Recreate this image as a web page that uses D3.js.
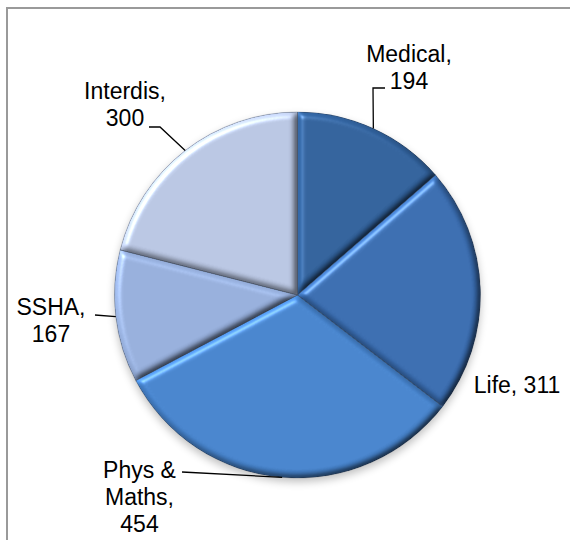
<!DOCTYPE html>
<html><head><meta charset="utf-8">
<script src="https://cdn.jsdelivr.net/npm/d3@7/dist/d3.min.js"></script>
<style>html,body{margin:0;padding:0;background:#fff;} svg{display:block;}</style>
</head><body>
<script>
// ---- data ----
const categories = ["Medical", "Life", "Phys & Maths", "SSHA", "Interdis"];
const values = [194, 311, 454, 167, 300];
const labelLines = [["Medical,", "194"], ["Life, 311"], ["Phys &", "Maths,", "454"], ["SSHA,", "167"], ["Interdis,", "300"]];
const colors = ["#2F5E97", "#3769AB", "#4480C8", "#92AAD6", "#B4C1DD"];

// ---- layout ----
const W = 570, H = 540, cx = 297.5, cy = 295, R = 183;
const labelPos = [[409, 62], [517, 393], [139.5, 478], [51, 315], [125, 99]];
const leaderStart = [[[385, 88], [373, 88]], null, [[182, 472]], [[95, 315]], [[149, 127], [160, 127]]];
const lineH = 27;

const svg = d3.select("body").append("svg").attr("width", W).attr("height", H);
const defs = svg.append("defs");

const f = defs.append("filter").attr("id", "bevel")
  .attr("x", "-5%").attr("y", "-5%").attr("width", "110%").attr("height", "110%")
  .attr("color-interpolation-filters", "sRGB");
f.append("feGaussianBlur").attr("in", "SourceAlpha").attr("stdDeviation", 3).attr("result", "b");
const dl = f.append("feDiffuseLighting").attr("in", "b").attr("surfaceScale", 3)
  .attr("diffuseConstant", 1).attr("lighting-color", "#fff").attr("result", "d");
dl.append("feDistantLight").attr("azimuth", 225).attr("elevation", 55);
const sl = f.append("feSpecularLighting").attr("in", "b").attr("surfaceScale", 3)
  .attr("specularConstant", 0.3).attr("specularExponent", 50).attr("lighting-color", "#fff").attr("result", "s");
sl.append("feDistantLight").attr("azimuth", 225).attr("elevation", 55);
f.append("feComposite").attr("in", "s").attr("in2", "SourceAlpha").attr("operator", "in").attr("result", "s2");
f.append("feComposite").attr("in", "SourceGraphic").attr("in2", "d").attr("operator", "arithmetic")
  .attr("k1", 1.22).attr("k2", 0).attr("k3", 0).attr("k4", 0).attr("result", "lit");
f.append("feComposite").attr("in", "s2").attr("in2", "lit").attr("operator", "arithmetic")
  .attr("k1", 0).attr("k2", 1).attr("k3", 1).attr("k4", 0);

const sh = defs.append("filter").attr("id", "shadow").attr("x", "-20%").attr("y", "-20%").attr("width", "140%").attr("height", "140%");
sh.append("feGaussianBlur").attr("stdDeviation", 4);

// frame
svg.append("rect").attr("x", 7).attr("y", 8).attr("width", 700).attr("height", 700)
  .attr("fill", "none").attr("stroke", "#9a9a9a").attr("stroke-width", 2);

const pie = d3.pie().sort(null).value(d => d)(values);
const arc = d3.arc().innerRadius(0).outerRadius(R);
const edge = d3.arc().innerRadius(R).outerRadius(R);

const g = svg.append("g").attr("transform", `translate(${cx},${cy})`);
g.append("circle").attr("cx", 0).attr("cy", 4).attr("r", R).attr("fill", "#000")
  .attr("opacity", 0.25).attr("filter", "url(#shadow)");

g.selectAll("path.slice").data(pie).join("path").attr("class", "slice")
  .attr("d", arc).attr("fill", (d, i) => colors[i]).attr("filter", "url(#bevel)");
g.selectAll("path.sep").data(pie).join("path").attr("class", "sep")
  .attr("d", arc).attr("fill", "none").attr("stroke", "#3a4a60").attr("stroke-opacity", 0.35).attr("stroke-width", 0.8);

// leaders
pie.forEach((d, i) => {
  if (!leaderStart[i]) return;
  const c = edge.centroid(d);
  const pts = leaderStart[i].concat([[cx + c[0], cy + c[1]]]);
  svg.append("path").attr("d", d3.line()(pts)).attr("fill", "none")
    .attr("stroke", "#000").attr("stroke-width", 1.3);
});

// labels
labelLines.forEach((lines, i) => {
  const t = svg.append("text").attr("x", labelPos[i][0]).attr("y", labelPos[i][1])
    .attr("text-anchor", "middle").attr("font-family", "'Liberation Sans', Arial, sans-serif")
    .attr("font-size", 23).attr("fill", "#000");
  lines.forEach((s, k) => t.append("tspan").attr("x", labelPos[i][0]).attr("y", labelPos[i][1] + k * lineH).text(s));
});
</script>
</body></html>
